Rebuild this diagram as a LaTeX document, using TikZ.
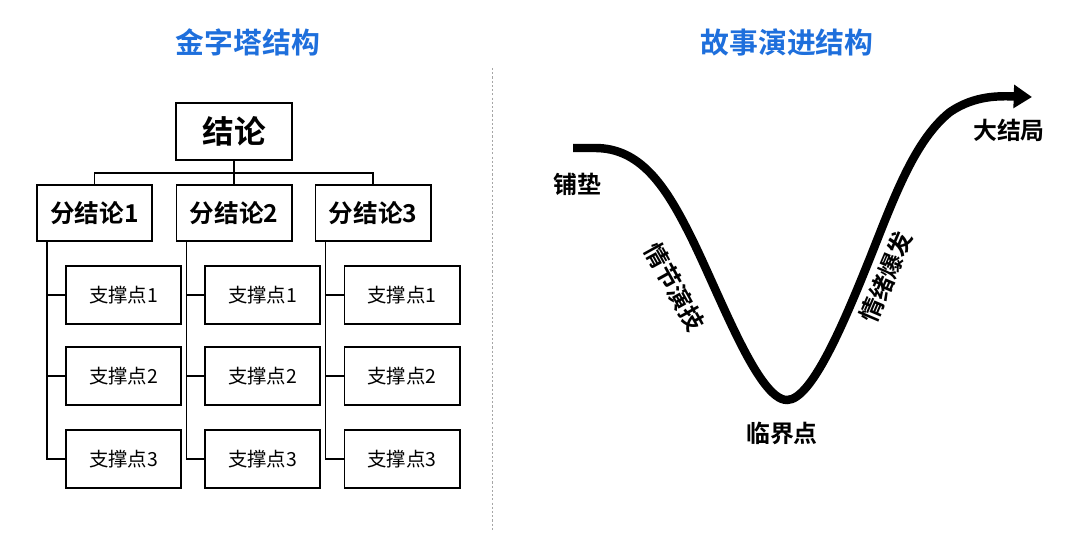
\documentclass[tikz,border=0pt]{standalone}
\usepackage{fontspec}
\setmainfont{Noto Sans CJK SC}
\newfontfamily\cjkb{Noto Sans CJK SC Bold}
\usetikzlibrary{arrows.meta}
\definecolor{ttlblue}{HTML}{1E6FDC}
\tikzset{
  ttl/.style={font=\cjkb\fontsize{20.5}{22}\selectfont, text=ttlblue},
  topbox/.style={draw, line width=1.4pt, minimum width=2.9cm, minimum height=1.425cm, inner sep=0pt, font=\cjkb\fontsize{22.5}{24}\selectfont},
  subbox/.style={draw, line width=1.4pt, minimum width=2.875cm, minimum height=1.4cm, inner sep=0pt, font=\cjkb\fontsize{17.5}{19}\selectfont},
  ptbox/.style={draw, line width=1.4pt, minimum width=2.875cm, minimum height=1.45cm, inner sep=0pt, font=\fontsize{13.8}{15}\selectfont},
  conn/.style={line width=1.4pt},
  lbl/.style={font=\cjkb\fontsize{17}{19}\selectfont, inner sep=0pt},
  curve/.style={line width=6pt, -{Triangle[length=13pt,width=16pt]}},
}
\begin{document}
\begin{tikzpicture}[x=0.025cm,y=-0.025cm]
\useasboundingbox (0,0) rectangle (1080,544);
% titles
\node[ttl] (t1) at (248,42) {金字塔结构};
\node[ttl] (t2) at (787,42) {故事演进结构};
% divider
\coordinate (dA) at (492,68);
\coordinate (dB) at (492,530);
\draw[gray!70, line width=0.5pt, dash pattern=on 1.5pt off 1.5pt] (dA) -- (dB);
% pyramid
\node[topbox] (top) at (234,131.5) {结论};
\node[subbox] (s1) at (94.5,213) {分结论1};
\node[subbox] (s2) at (234,213) {分结论2};
\node[subbox] (s3) at (373,213) {分结论3};
\draw[conn] (top.south) -- ++(0,12) -| (s1.north);
\draw[conn] (top.south) -- ++(0,12) -| (s3.north);
\draw[conn] (top.south) -- (s2.north);
\foreach \c/\x in {1/123.5,2/262.5,3/402}{
  \node[ptbox] (p\c1) at (\x,295) {支撑点1};
  \node[ptbox] (p\c2) at (\x,376) {支撑点2};
  \node[ptbox] (p\c3) at (\x,459) {支撑点3};
  \coordinate (v\c) at ([xshift=0.275cm]s\c.south west);
  \draw[conn] (v\c) |- (p\c3.west);
  \draw[conn] (p\c1.west) -- (p\c1.west -| v\c);
  \draw[conn] (p\c2.west) -- (p\c2.west -| v\c);
}
% story curve
\coordinate (cs) at (573,148);
\coordinate (ce) at (1032,97);
\draw[curve] (cs) -- (595,148) .. controls (640,148) and (665,185) .. (690,235)
  .. controls (720,295) and (758,400) .. (787,400)
  .. controls (812,400) and (845,320) .. (870,258)
  .. controls (895,195) and (915,140) .. (950,112)
  .. controls (975,95) and (1000,96) .. (ce);
\node[lbl] (l1) at (577,184) {铺垫};
\node[lbl] (l2) at (1009,130) {大结局};
\node[lbl] (l3) at (782,433) {临界点};
\node[lbl, rotate=-61] (l4) at (675,287) {情节演技};
\node[lbl, rotate=67] (l5) at (886,277) {情绪爆发};
\end{tikzpicture}
\end{document}
